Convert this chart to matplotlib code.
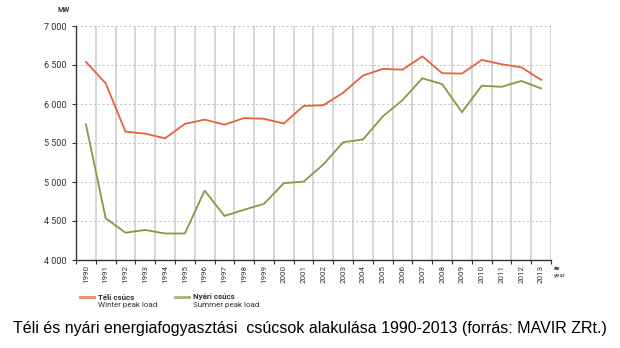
import matplotlib.pyplot as plt
from matplotlib.lines import Line2D

years = list(range(1990, 2014))
winter_peak = [6540, 6265, 5645, 5620, 5560, 5745, 5800, 5735, 5820, 5810, 5750, 5975,
               5985, 6145, 6365, 6450, 6440, 6610, 6395, 6390, 6565, 6510, 6470, 6310]
summer_peak = [5740, 4535, 4350, 4385, 4340, 4340, 4890, 4565, 4645, 4720, 4985, 5005,
               5225, 5510, 5545, 5840, 6050, 6330, 6255, 5895, 6235, 6220, 6295, 6200]
y_ticks = [4000, 4500, 5000, 5500, 6000, 6500, 7000]

ORANGE = "#e5623a"
GREEN = "#7f9c45"
TXT = "#333333"

plt.rcParams["font.family"] = "Roboto"

fig = plt.figure(figsize=(6.2, 3.48), dpi=100)
ax = fig.add_axes([76 / 620, 1 - 260 / 348, 475 / 620, 234 / 348])

x = list(range(len(years)))
ax.plot(x, winter_peak, color=ORANGE, lw=1.3, solid_joinstyle="miter")
ax.plot(x, summer_peak, color=GREEN, lw=1.3, solid_joinstyle="miter")

ax.set_xlim(-0.5, len(years) - 0.5)
ax.set_ylim(4000, 7000)

# vertical cell separators
for b in range(1, len(years) + 1):
    ax.axvline(b - 0.5, color="#cfcfcf", lw=1.2, zorder=0)
# dotted horizontal grid
for v in y_ticks[1:]:
    ax.axhline(v, color="#bdbdbd", lw=0.7, ls=(0, (2, 2.5)), zorder=0)

ax.set_yticks(y_ticks)
ax.set_yticklabels([f"{v:,}".replace(",", " ") for v in y_ticks], fontsize=6.5, color=TXT)
ax.set_xticks([b - 0.5 for b in range(len(years) + 1)])
ax.set_xticklabels([])
ax.tick_params(axis="x", length=3, width=0.8, color="#333333", direction="out")
ax.tick_params(axis="y", length=3, width=0.8, color="#333333", direction="out", pad=4)

for i, yr in enumerate(years):
    ax.text(i, 3935, str(yr), rotation=90, ha="center", va="top", fontsize=5.8, color=TXT)

for side in ("top", "right"):
    ax.spines[side].set_visible(False)
for side in ("left", "bottom"):
    ax.spines[side].set_color("#333333")
    ax.spines[side].set_linewidth(1.0)

fig.text(64 / 620, 1 - 10 / 348, "MW", fontsize=5, fontweight="bold", color=TXT, ha="center", va="center")
fig.text(554 / 620, 1 - 268 / 348, "év", fontsize=4.5, fontweight="bold", color=TXT, ha="left", va="center")
fig.text(554 / 620, 1 - 275 / 348, "year", fontsize=4.5, color=TXT, ha="left", va="center")

# legend
for x0, col, head, sub in [(80, ORANGE, "Téli csúcs", "Winter peak load"),
                           (175, GREEN, "Nyári csúcs", "Summer peak load")]:
    fig.add_artist(Line2D([x0 / 620, (x0 + 14) / 620], [1 - 297 / 348] * 2,
                          color=col, lw=2, alpha=0.75, transform=fig.transFigure))
    fig.text((x0 + 18) / 620, 1 - 297 / 348, head, fontsize=5.8, fontweight="bold",
             color=TXT, ha="left", va="center")
    fig.text((x0 + 18) / 620, 1 - 305 / 348, sub, fontsize=5.8, color=TXT, ha="left", va="center")

fig.text(310 / 620, 1 - 328 / 348,
         "Téli és nyári energiafogyasztási  csúcsok alakulása 1990-2013 (forrás: MAVIR ZRt.)",
         fontsize=11.5, family="Liberation Sans", color="black", ha="center", va="center")

fig.savefig("out.png", dpi=100)
